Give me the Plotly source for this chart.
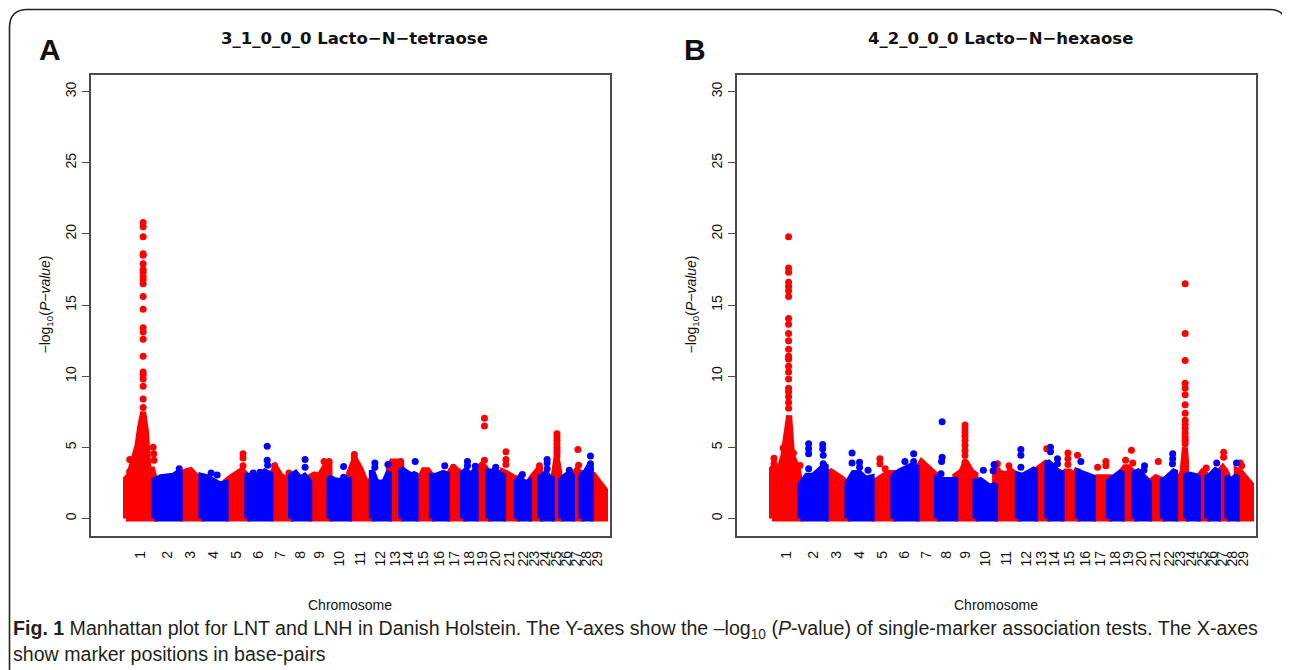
import plotly.graph_objects as go

W, H = 1290, 670

# ---------------- data ----------------
chrom_labels = [str(i) for i in range(1, 30)]
# chromosome lengths (Mb) as laid out on the x axis
chrom_len_mb = [150, 132, 114, 127, 114, 121, 108, 96, 106, 103, 119, 90, 65, 75, 85,
                80, 83, 67, 67, 77, 72, 65, 57, 62, 49, 57, 49, 49, 75]

# upper envelope of the dense cloud of markers, per chromosome (evenly spaced along chromosome)
env_lnt = [
    [2.8, 3.0, 3.75, 4.2, 5.1, 6.5, 7.5, 6.1, 3.0, 3.6, 2.8],
    [2.7, 2.9, 2.9, 3.0, 3.3],
    [3.0, 3.3, 3.4, 3.0, 2.6],
    [3.0, 2.9, 2.6, 2.4, 2.5],
    [2.6, 2.9, 3.1, 3.4, 3.0],
    [3.0, 3.0, 3.0, 3.3, 3.1],
    [3.0, 3.6, 3.0, 2.8, 3.0],
    [3.0, 3.2, 2.8, 3.0, 2.6],
    [2.9, 3.1, 3.0, 3.6, 3.7],
    [2.9, 2.7, 2.6, 2.6, 2.7],
    [3.2, 4.2, 3.5, 2.5, 2.7],
    [3.4, 2.6, 2.5, 2.6, 3.3],
    [3.5, 4.0, 4.0, 4.0, 3.8],
    [3.5, 3.3, 3.2, 3.0, 3.2],
    [2.6, 2.8, 3.4, 3.4, 3.0],
    [3.0, 3.0, 3.1, 3.2, 3.1],
    [2.9, 3.4, 3.5, 3.3, 3.0],
    [3.2, 3.4, 3.1, 3.2, 3.4],
    [3.3, 3.6, 3.8, 3.6, 3.2],
    [3.3, 3.3, 3.4, 3.1, 3.0],
    [3.3, 3.2, 3.0, 2.9, 2.8],
    [2.6, 2.9, 2.6, 2.5, 2.6],
    [2.6, 2.9, 3.1, 3.4, 3.6],
    [2.9, 3.0, 3.2, 2.9, 2.8],
    [2.6, 2.8, 3.0, 3.4, 4.0, 4.3, 4.0, 3.4, 3.0, 2.8, 2.6],
    [2.7, 2.9, 3.0, 3.2, 3.0],
    [2.8, 3.2, 3.4, 3.3, 3.0],
    [3.0, 3.2, 3.3, 3.6, 3.6],
    [2.8, 3.0, 2.7, 2.3, 2.0],
]
env_lnh = [
    [3.5, 3.7, 3.5, 3.7, 4.45, 5.85, 7.25, 4.45, 4.0, 3.5, 2.3],
    [2.4, 3.0, 3.0, 3.4, 3.8],
    [3.1, 3.3, 3.1, 2.8, 2.4],
    [2.5, 3.2, 3.2, 2.8, 2.9],
    [2.5, 2.7, 3.0, 3.2, 3.2],
    [3.0, 3.3, 3.5, 3.7, 3.6],
    [3.4, 4.0, 3.7, 3.3, 3.0],
    [2.8, 2.7, 2.7, 2.6, 2.7],
    [3.0, 3.1, 3.2, 3.3, 3.6, 4.0, 3.8, 3.4, 3.3, 3.2, 3.1],
    [2.6, 2.7, 2.5, 2.2, 2.4],
    [3.0, 3.2, 3.1, 3.3, 2.9],
    [3.1, 3.0, 3.1, 3.3, 3.5],
    [3.2, 3.5, 3.7, 3.8, 4.0],
    [4.0, 3.8, 3.5, 3.3, 3.2],
    [2.8, 3.3, 3.3, 3.0, 3.5],
    [3.3, 3.2, 3.1, 3.0, 2.9],
    [2.7, 2.9, 2.9, 3.0, 2.9],
    [2.6, 2.8, 3.0, 3.2, 3.3],
    [3.3, 3.6, 3.6, 3.4, 3.2],
    [3.2, 3.3, 3.1, 2.8, 2.5],
    [2.6, 2.7, 2.9, 2.8, 2.7],
    [2.7, 2.8, 3.0, 3.3, 3.4],
    [2.6, 2.7, 2.7, 2.8, 2.9, 3.0, 3.1, 3.4, 4.2, 5.0, 4.0],
    [3.0, 3.1, 3.1, 3.0, 2.9],
    [2.9, 3.1, 3.3, 3.2, 3.0],
    [2.9, 3.0, 3.2, 3.4, 3.3],
    [3.1, 3.4, 3.6, 3.4, 3.1],
    [3.0, 2.6, 2.7, 2.9, 3.0],
    [3.4, 3.3, 3.0, 2.8, 2.4],
]

# individual markers standing out of the cloud: (chromosome, relative position, -log10 P)
lnt_chr1_peak = [20.8, 20.5, 19.8, 18.6, 18.5, 17.9, 17.5, 17.3, 17.0, 16.8, 16.5, 15.6,
                 14.7, 13.4, 13.1, 12.6, 11.4, 10.3, 10.1, 9.8, 9.3, 8.4, 7.8]
lnt_chr25_peak = [5.95, 5.75, 5.5, 5.25, 5.0, 4.8, 4.6, 4.4]
lnt_other = [
    (1, 0.13, 4.15), (1, 0.13, 3.3), (1, 0.95, 5.0), (1, 0.97, 4.55), (1, 0.98, 4.1),
    (2, 0.98, 3.5), (4, 0.4, 3.2), (4, 0.65, 3.05),
    (5, 0.8, 4.55), (5, 0.8, 4.25), (5, 0.8, 3.7),
    (6, 0.25, 3.2), (6, 0.55, 3.25), (6, 0.86, 5.08), (6, 0.86, 4.1), (6, 0.88, 3.75),
    (7, 0.2, 3.7), (7, 0.9, 3.2), (8, 0.77, 4.15), (8, 0.77, 3.6),
    (9, 0.73, 4.0), (9, 0.98, 4.0), (10, 0.72, 3.65), (10, 0.72, 2.9),
    (11, 0.23, 4.5), (11, 0.23, 4.25), (12, 0.18, 3.9), (12, 0.18, 3.6), (12, 0.94, 3.8),
    (13, 0.95, 4.0), (14, 0.97, 4.0), (16, 0.85, 3.7), (17, 0.4, 3.6),
    (18, 0.36, 4.0), (18, 0.36, 3.7), (18, 0.97, 3.67),
    (19, 0.69, 7.05), (19, 0.69, 6.5), (19, 0.69, 4.1), (20, 0.5, 3.6),
    (21, 0.21, 4.7), (21, 0.21, 4.15), (21, 0.21, 3.8), (22, 0.45, 3.1), (23, 0.95, 3.7),
    (24, 0.6, 4.15), (24, 0.6, 3.9), (24, 0.6, 3.5), (26, 0.75, 3.4),
    (27, 0.63, 4.85), (27, 0.7, 3.75), (28, 0.97, 4.4), (28, 0.97, 3.85), (28, 0.97, 3.45),
]
lnh_chr1_peak = [19.8, 17.6, 17.3, 16.6, 16.3, 16.0, 15.6, 14.05, 13.65, 13.0, 12.5, 11.9,
                 11.4, 11.2, 10.7, 10.3, 9.8, 9.15, 8.9, 8.55, 8.15, 7.75]
lnh_chr9_peak = [6.57, 6.3, 6.05, 5.78, 5.48, 5.13, 4.78, 4.43, 3.96]
lnh_chr23_peak = [16.5, 13.0, 11.1, 9.5, 9.15, 8.7, 8.0, 7.4, 6.9, 6.6, 6.3, 6.0, 5.7, 5.5, 5.25]
lnh_other = [
    (1, 0.39, 4.96), (1, 0.07, 4.24), (1, 0.07, 3.85), (1, 0.75, 4.6), (1, 0.98, 3.73),
    (2, 0.32, 5.25), (2, 0.32, 4.9), (2, 0.32, 4.55), (2, 0.32, 3.5),
    (2, 0.88, 5.2), (2, 0.88, 4.9), (2, 0.9, 4.45), (2, 0.9, 3.85),
    (4, 0.19, 4.6), (4, 0.19, 3.9), (4, 0.5, 3.95), (4, 0.5, 3.6), (4, 0.85, 3.4),
    (5, 0.38, 4.2), (5, 0.38, 3.85), (5, 0.62, 3.5),
    (6, 0.5, 4.0), (6, 0.88, 4.55), (6, 0.88, 4.0),
    (8, 0.28, 6.8), (8, 0.28, 4.3), (8, 0.25, 4.0), (8, 0.22, 3.15),
    (10, 0.4, 3.4), (10, 0.95, 3.8), (10, 0.9, 3.35),
    (11, 0.1, 3.85), (11, 0.1, 3.4), (11, 0.61, 3.7), (11, 0.65, 3.3),
    (12, 0.18, 4.85), (12, 0.18, 4.45), (12, 0.18, 3.6), (13, 0.95, 4.9),
    (14, 0.22, 5.0), (14, 0.22, 4.7), (14, 0.71, 4.2), (14, 0.71, 3.85),
    (15, 0.39, 4.6), (15, 0.39, 4.2), (15, 0.39, 3.8), (15, 0.98, 4.45),
    (16, 0.2, 4.0), (17, 0.29, 3.6), (17, 0.81, 4.0), (17, 0.81, 3.7),
    (19, 0.77, 4.8), (19, 0.31, 4.1), (19, 0.87, 3.9), (20, 0.69, 3.7), (20, 0.65, 3.4),
    (21, 0.67, 4.0), (22, 0.8, 4.55), (22, 0.8, 4.2), (22, 0.78, 3.85),
    (25, 0.9, 3.55), (26, 0.88, 3.9), (27, 0.6, 4.65), (27, 0.6, 4.3),
    (28, 0.98, 3.9), (29, 0.25, 3.9), (29, 0.35, 3.7),
]
lnt_points = ([(1, 0.6, v) for v in lnt_chr1_peak] + [(25, 0.55, v) for v in lnt_chr25_peak]
              + lnt_other)
lnh_points = ([(1, 0.58, v) for v in lnh_chr1_peak] + [(9, 0.48, v) for v in lnh_chr9_peak]
              + [(23, 0.92, v) for v in lnh_chr23_peak] + lnh_other)

y_ticks = [0, 5, 10, 15, 20, 25, 30]

# ---------------- layout helpers ----------------
RED, BLUE = "#FF0000", "#0000FF"
starts = []
acc = 0.0
for L in chrom_len_mb:
    starts.append(acc)
    acc += L
TOTAL = acc
mids = [s + L / 2 for s, L in zip(starts, chrom_len_mb)]


def px(x):
    return x / W


def py(y):
    return 1 - y / H


def bodies(env, parity):
    xs, ys = [], []
    for i, e in enumerate(env):
        if i % 2 != parity:
            continue
        s, L = starts[i], chrom_len_mb[i]
        n = len(e)
        xs += [s] + [s + L * k / (n - 1) for k in range(n)] + [s + L, s, None]
        ys += [0] + list(e) + [0, 0, None]
    return xs, ys


def points(pts, parity):
    xs, ys = [], []
    for c, f, v in pts:
        if (c - 1) % 2 != parity:
            continue
        xs.append(starts[c - 1] + f * chrom_len_mb[c - 1])
        ys.append(v)
    return xs, ys


fig = go.Figure()
panels = [
    ("x", "y", env_lnt, lnt_points),
    ("x2", "y2", env_lnh, lnh_points),
]
for xa, ya, env, pts in panels:
    for parity, col in ((0, RED), (1, BLUE)):
        bx, by = bodies(env, parity)
        fig.add_trace(go.Scatter(x=bx, y=by, xaxis=xa, yaxis=ya, mode="lines",
                                 fill="toself", fillcolor=col,
                                 line=dict(color=col, width=6), hoverinfo="skip",
                                 showlegend=False))
        mx, my = points(pts, parity)
        fig.add_trace(go.Scatter(x=mx, y=my, xaxis=xa, yaxis=ya, mode="markers",
                                 marker=dict(color=col, size=7, line=dict(width=0)),
                                 showlegend=False))

# panel geometry in pixels
PANEL_SHIFT = 646
boxA = (82.5, 601.5)
boxB = (boxA[0] + PANEL_SHIFT, boxA[1] + PANEL_SHIFT)
dataA = (118.0, 597.0)
box_top, box_bot = 66.5, 527.6
upp = TOTAL / (dataA[1] - dataA[0])          # x units per pixel
xr = [-(dataA[0] - boxA[0]) * upp, TOTAL + (boxA[1] - dataA[1]) * upp]
AXC = "#4a4a4a"
FONT = "Liberation Sans, Arial, sans-serif"

common_x = dict(range=xr, showgrid=False, zeroline=False, showline=True, mirror=True,
                linecolor=AXC, linewidth=1.5, ticks="", tickmode="array",
                tickvals=mids, ticktext=chrom_labels, tickangle=-90,
                tickfont=dict(size=14, color="#111", family=FONT), ticklabelstandoff=8)
common_y = dict(range=[-1.2, 31.2], showgrid=False, zeroline=False, showline=True,
                mirror=True, linecolor=AXC, linewidth=1.5, ticks="outside", ticklen=7,
                tickwidth=1.2, tickcolor=AXC, tickmode="array", tickvals=y_ticks,
                tickangle=-90, tickfont=dict(size=14, color="#111", family=FONT))

fig.update_layout(
    width=W, height=H, margin=dict(l=0, r=0, t=0, b=0),
    paper_bgcolor="white", plot_bgcolor="white",
    xaxis=dict(domain=[px(boxA[0]), px(boxA[1])], anchor="y", **common_x),
    yaxis=dict(domain=[py(box_bot), py(box_top)], anchor="x", **common_y),
    xaxis2=dict(domain=[px(boxB[0]), px(boxB[1])], anchor="y2", **common_x),
    yaxis2=dict(domain=[py(box_bot), py(box_top)], anchor="x2", **common_y),
    font=dict(family=FONT, color="#111"),
)


def note(x, y, text, size, family=FONT, **kw):
    d = dict(x=px(x), y=py(y), text=text, showarrow=False, xref="paper", yref="paper",
             xanchor="center", yanchor="middle", font=dict(size=size, family=family))
    d.update(kw)
    return d


ann = []
for (x0, x1), title, letter in (
        (boxA, "3_1_0_0_0 Lacto\u2212N\u2212tetraose", "A"),
        (boxB, "4_2_0_0_0 Lacto\u2212N\u2212hexaose", "B")):
    cx = (x0 + x1) / 2
    ann.append(note(cx + 4, 30, "<b>" + title + "</b>", 16.5, family="DejaVu Sans, sans-serif"))
    ann.append(note(x0 - 41, 41, "<b>" + letter + "</b>", 30))
    ann.append(note(cx, 597, "Chromosome", 14))
    ann.append(note(x0 - 44, (box_top + box_bot) / 2,
                    "\u2212log<sub>10</sub>(<i>P\u2212value</i>)", 14, textangle=-90))

CAP = dict(color="#231F20", size=19.6, family=FONT)
ann.append(dict(x=px(3), y=py(621), xanchor="left", yanchor="middle", showarrow=False,
                xref="paper", yref="paper", font=CAP,
                text="<b>Fig. 1</b> Manhattan plot for LNT and LNH in Danish Holstein. "
                     "The Y-axes show the \u2013log<sub>10</sub> (<i>P</i>-value) of "
                     "single-marker association tests. The X-axes"))
ann.append(dict(x=px(3), y=py(646), xanchor="left", yanchor="middle", showarrow=False,
                xref="paper", yref="paper", font=CAP,
                text="show marker positions in base-pairs"))
fig.update_layout(annotations=ann)

# rounded outer frame
l, t, r, b, rad = px(1.5), py(1.5), px(1279), py(700), 18
rx, ry = rad / W, rad / H
path = (f"M {l},{b} L {l},{t - ry} Q {l},{t} {l + rx},{t} L {r - rx},{t} "
        f"Q {r},{t} {r},{t - ry} L {r},{b}")
fig.add_shape(type="path", path=path, xref="paper", yref="paper",
              line=dict(color="#222", width=1.6))

fig.write_html("out.html")
